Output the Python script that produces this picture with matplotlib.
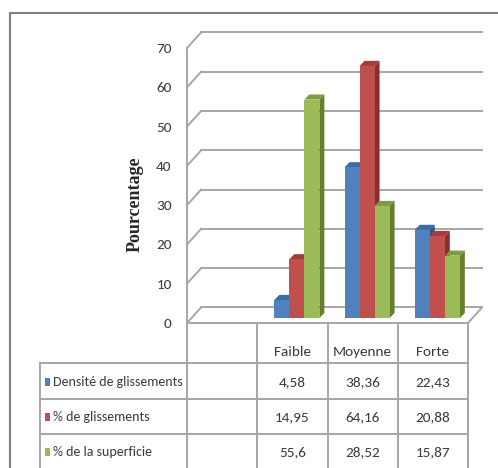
import matplotlib.pyplot as plt
from matplotlib.patches import Polygon, Rectangle
from matplotlib.lines import Line2D

categories = ['', 'Faible', 'Moyenne', 'Forte']
series_names = ['Densité de glissements', '% de glissements', '% de la superficie']
densite = [None, 4.58, 38.36, 22.43]
pct_glissements = [None, 14.95, 64.16, 20.88]
pct_superficie = [None, 55.6, 28.52, 15.87]
yticks = [0, 10, 20, 30, 40, 50, 60, 70]

series = [densite, pct_glissements, pct_superficie]
front_col = ['#4F81BD', '#C0504D', '#9BBB59']
side_col = ['#2E5686', '#8C2F2C', '#657E30']
top_col = ['#3C6BA5', '#A43D3A', '#7E9C43']

fnt = ['Carlito', 'DejaVu Sans']
txt_col = '#3A3A3A'
grid_col = '#A6A6A6'

# depth of the back wall and of the bars, in data units
DX, DY = 0.2, 3.95
FX, FY = 0.064, 1.27
BX, BY = 0.07, 1.3
W = 0.214

fig = plt.figure(figsize=(4.98, 4.68), dpi=100)
ax = fig.add_axes([187 / 498, 1 - 323 / 468, 281 / 498, 275 / 468])
ax.set_xlim(0, len(categories))
ax.set_ylim(0, 70)
for s in ax.spines.values():
    s.set_visible(False)
ax.set_xticks([])
ax.set_yticks(yticks)
ax.set_yticklabels([str(t) for t in yticks], family=fnt, fontsize=11, color=txt_col)
ax.tick_params(axis='y', length=0, pad=11)
ax.set_ylabel('Pourcentage', family='Liberation Serif', fontweight='bold',
              fontsize=13, color='#262626')
ax.yaxis.set_label_coords(-0.155, 0.433)

n = len(categories)
# walls and gridlines
for t in yticks:
    ax.plot([0, DX], [t, t + DY], color=grid_col, lw=1.4, clip_on=False, zorder=1)
    ax.plot([DX, n + DX], [t + DY, t + DY], color=grid_col, lw=1.4, clip_on=False, zorder=1)
ax.plot([0, 0], [0, 70], color=grid_col, lw=1.4, clip_on=False, zorder=1)
ax.plot([n, n + DX], [0, DY], color=grid_col, lw=1.4, clip_on=False, zorder=1)

# 3d columns
for j, vals in enumerate(series):
    for i, v in enumerate(vals):
        if v is None:
            continue
        x = i + 0.5 - 1.5 * W + j * W + FX
        z = 3 + j * 0.1
        ax.add_patch(Polygon([(x + W, FY), (x + W + BX, FY + BY), (x + W + BX, FY + BY + v),
                              (x + W, FY + v)], closed=True, fc=side_col[j], ec='none',
                             zorder=z, clip_on=False))
        ax.add_patch(Polygon([(x, FY + v), (x + BX, FY + v + BY), (x + W + BX, FY + v + BY),
                              (x + W, FY + v)], closed=True, fc=top_col[j], ec='none',
                             zorder=z + 0.01, clip_on=False))
        ax.bar(x, v, width=W, bottom=FY, align='edge', color=front_col[j],
               zorder=z + 0.02, clip_on=False)

# data table under the plot
row_tops = [0, -10.2, -19.35, -28.25, -40]
left = -2.09
tk = dict(color=grid_col, lw=1.4, clip_on=False, zorder=2)
ax.plot([0, n], [0, 0], **tk)
for y in row_tops[1:4]:
    ax.plot([left, n], [y, y], **tk)
for i in range(n + 1):
    ax.plot([i, i], [0, row_tops[-1]], **tk)
ax.plot([left, left], [row_tops[1], row_tops[-1]], **tk)

for i, c in enumerate(categories):
    ax.text(i + 0.5, -7.4, c, ha='center', va='center', family=fnt,
            fontsize=11, color=txt_col, clip_on=False)
row_y = [-15.0, -23.9, -32.8]
for j, vals in enumerate(series):
    ax.add_patch(Rectangle((-2.02, row_y[j] - 1.0), 0.075, 2.1, fc=front_col[j],
                           ec='none', clip_on=False))
    ax.text(-1.91, row_y[j], series_names[j], ha='left', va='center', family=fnt,
            fontsize=10, color=txt_col, clip_on=False)
    for i, v in enumerate(vals):
        if v is None:
            continue
        ax.text(i + 0.5, row_y[j], str(v).replace('.', ','), ha='center', va='center',
                family=fnt, fontsize=11, color=txt_col, clip_on=False)

# chart frame
fig.add_artist(Line2D([10 / 498, 10 / 498], [0, 1 - 13 / 468], color='#7F7F7F', lw=1.5))
fig.add_artist(Line2D([10 / 498, 1], [1 - 13 / 468, 1 - 13 / 468], color='#7F7F7F', lw=1.5))

fig.savefig('out.png', dpi=100)
